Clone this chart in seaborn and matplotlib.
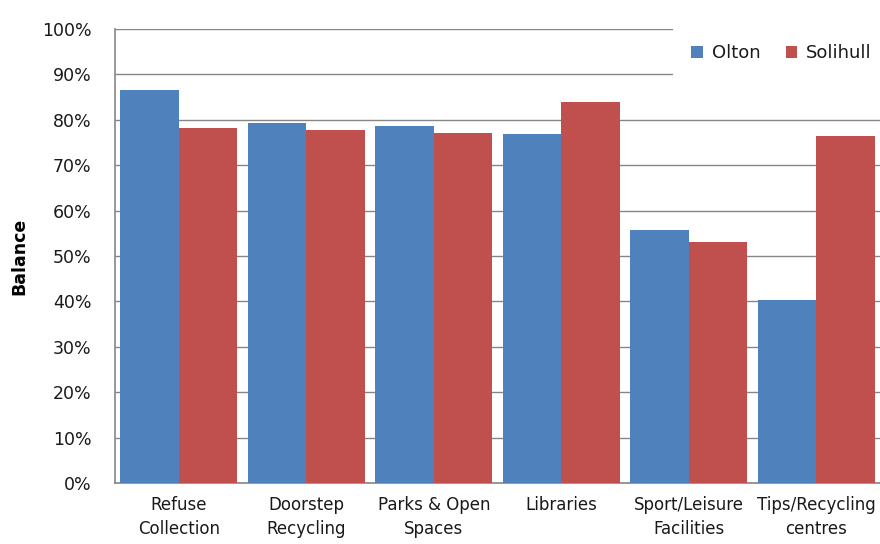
import numpy as np
import pandas as pd
import matplotlib
matplotlib.use("Agg")
import matplotlib.pyplot as plt
import seaborn as sns

categories = ["Refuse\nCollection", "Doorstep\nRecycling", "Parks & Open\nSpaces",
              "Libraries", "Sport/Leisure\nFacilities", "Tips/Recycling\ncentres"]
olton = [86.6, 79.4, 78.6, 76.9, 55.7, 40.4]
solihull = [78.2, 77.8, 77.2, 83.9, 53.0, 76.4]
series_names = ["Olton", "Solihull"]
y_ticks = [0, 10, 20, 30, 40, 50, 60, 70, 80, 90, 100]

df = pd.DataFrame({
    "category": categories * 2,
    "value": olton + solihull,
    "series": [series_names[0]] * len(categories) + [series_names[1]] * len(categories),
})

sns.set_theme(style="white")
plt.rcParams["font.family"] = ["DejaVu Sans"]

fig = plt.figure(figsize=(8.8, 5.44), dpi=100)
ax = fig.add_axes([115 / 880, (544 - 483) / 544, 765 / 880, (483 - 29) / 544])

grid_c = "#868686"
txt_c = "#1a1a1a"
palette = {"Olton": "#4F81BD", "Solihull": "#C0504D"}
sns.barplot(data=df, x="category", y="value", hue="series", palette=palette,
            width=0.92, ax=ax, saturation=1, zorder=3, linewidth=0)

ax.set_ylim(0, 100)
ax.set_xlim(-0.5, len(categories) - 0.5)
ax.set_yticks(y_ticks)
ax.set_yticklabels([f"{t}%" for t in y_ticks], fontsize=12.5, color=txt_c)
ax.yaxis.grid(True, color=grid_c, linewidth=1.0, zorder=0)
ax.set_axisbelow(True)

ax.set_xticks(np.arange(-0.5, len(categories), 1.0))
ax.set_xticklabels([])
ax.set_xticks(range(len(categories)), minor=True)
ax.set_xticklabels(categories, minor=True, fontsize=12, color=txt_c, linespacing=1.5)
ax.tick_params(axis="x", which="major", direction="out", length=7, width=1, color=grid_c)
ax.tick_params(axis="x", which="minor", length=0, pad=9)
ax.tick_params(axis="y", direction="inout", length=10, width=1, color=grid_c, pad=12)

for s in ["top", "right"]:
    ax.spines[s].set_visible(False)
for s in ["left", "bottom"]:
    ax.spines[s].set_color(grid_c)
    ax.spines[s].set_linewidth(1.2)

ax.set_xlabel("")
ax.set_ylabel("Balance", fontsize=12.5, fontweight="bold", labelpad=10, color="black")

leg = ax.legend(loc="upper right", bbox_to_anchor=(1.013, 1.0066), ncol=2, fontsize=13,
                frameon=True, facecolor="white", edgecolor="none", framealpha=1,
                handlelength=0.65, handleheight=0.65, handletextpad=0.5,
                columnspacing=1.4, borderpad=1.0, borderaxespad=0)
leg.set_zorder(5)
leg.get_frame().set_linewidth(0)
for t in leg.get_texts():
    t.set_color(txt_c)

fig.savefig("out.png", dpi=100)
